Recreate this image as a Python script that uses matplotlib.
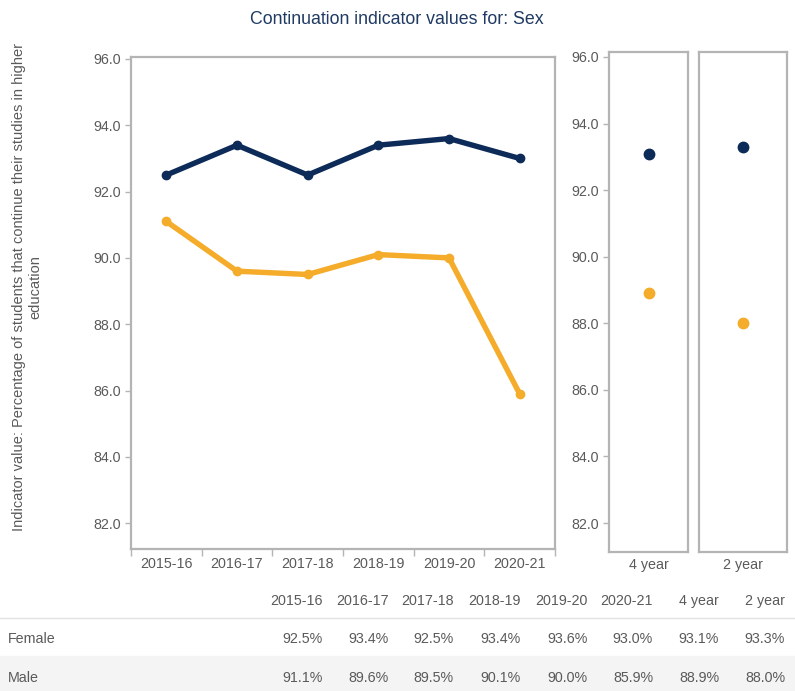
import matplotlib
matplotlib.use("Agg")
import matplotlib.pyplot as plt
import numpy as np

years = ["2015-16", "2016-17", "2017-18", "2018-19", "2019-20", "2020-21"]
female = [92.5, 93.4, 92.5, 93.4, 93.6, 93.0]
male = [91.1, 89.6, 89.5, 90.1, 90.0, 85.9]
avg_labels = ["4 year", "2 year"]
female_avg = [93.1, 93.3]
male_avg = [88.9, 88.0]
yticks = [82.0, 84.0, 86.0, 88.0, 90.0, 92.0, 94.0, 96.0]

navy = "#0d2b58"
gold = "#f4ac2a"
frame = "#b4b4b4"
txt = "#5a5a5a"
fs = 10.3

plt.rcParams["font.family"] = ["Liberation Sans", "DejaVu Sans"]

W, H = 795, 691
fig = plt.figure(figsize=(W / 100, H / 100), dpi=100)


def box(x0, y0, x1, y1):
    return [x0 / W, 1 - y1 / H, (x1 - x0) / W, (y1 - y0) / H]


def style(ax):
    for s in ax.spines.values():
        s.set_color(frame)
        s.set_linewidth(1.6)
    ax.tick_params(axis="y", colors=frame, labelcolor=txt, labelsize=fs, length=4, width=1)
    ax.set_yticks(yticks)
    ax.set_yticklabels([f"{v:.1f}" for v in yticks])


# main trend panel
ax = fig.add_axes(box(131, 57, 555, 549))
x = np.arange(len(years))
ax.plot(x, female, color=navy, lw=3.9, marker="o", ms=6, solid_joinstyle="round", solid_capstyle="round")
ax.plot(x, male, color=gold, lw=3.9, marker="o", ms=6, solid_joinstyle="round", solid_capstyle="round")
ax.set_xlim(-0.5, len(years) - 0.5)
ax.set_ylim(81.22, 96.06)
style(ax)
ax.set_xticks(x)
ax.set_xticklabels(years)
ax.tick_params(axis="x", length=0, labelcolor=txt, labelsize=fs, pad=6)
ax.set_xticks(np.arange(-0.5, len(years)), minor=True)
ax.tick_params(axis="x", which="minor", length=5, color=frame, width=1)

# average panels
pos = [(609, 688), (699, 787)]
for i, (x0, x1) in enumerate(pos):
    a = fig.add_axes(box(x0, 52, x1, 552))
    a.plot([0], [female_avg[i]], "o", color=navy, ms=7.5)
    a.plot([0], [male_avg[i]], "o", color=gold, ms=7.5)
    a.set_xlim(-1, 1)
    a.set_ylim(81.13, 96.15)
    style(a)
    a.set_xticks([0])
    a.set_xticklabels([avg_labels[i]])
    a.tick_params(axis="x", length=0, labelcolor=txt, labelsize=fs, pad=4)
    if i > 0:
        a.tick_params(axis="y", length=0, labelleft=False)

fig.text(397 / W, 1 - 19 / H, "Continuation indicator values for: Sex",
         ha="center", va="center", fontsize=12.8, color="#1f3a63")
fig.text(27 / W, 1 - 287 / H,
         "Indicator value: Percentage of students that continue their studies in higher\neducation",
         rotation=90, ha="center", va="center", multialignment="center",
         fontsize=10.5, color=txt)

# table below
fig.patches.append(plt.Rectangle((0, 0), 1, 1 - 656 / H, transform=fig.transFigure,
                                 color="#f4f4f4", zorder=0))
fig.add_artist(plt.Line2D([0, 1], [1 - 618 / H] * 2, transform=fig.transFigure,
                          color="#e2e2e2", lw=1))
col_right = [323, 389, 454, 521, 588, 653, 719, 785]
headers = years + avg_labels
female_row = female + female_avg
male_row = male + male_avg
for i, cx in enumerate(col_right):
    fig.text(cx / W, 1 - 601 / H, headers[i], ha="right", va="center", fontsize=fs, color=txt)
    fig.text(cx / W, 1 - 639 / H, f"{female_row[i]:.1f}%", ha="right", va="center",
             fontsize=fs, color=txt)
    fig.text(cx / W, 1 - 678 / H, f"{male_row[i]:.1f}%", ha="right", va="center",
             fontsize=fs, color=txt)
fig.text(8 / W, 1 - 639 / H, "Female", ha="left", va="center", fontsize=fs, color=txt)
fig.text(8 / W, 1 - 678 / H, "Male", ha="left", va="center", fontsize=fs, color=txt)

fig.savefig("out.png", dpi=100)
